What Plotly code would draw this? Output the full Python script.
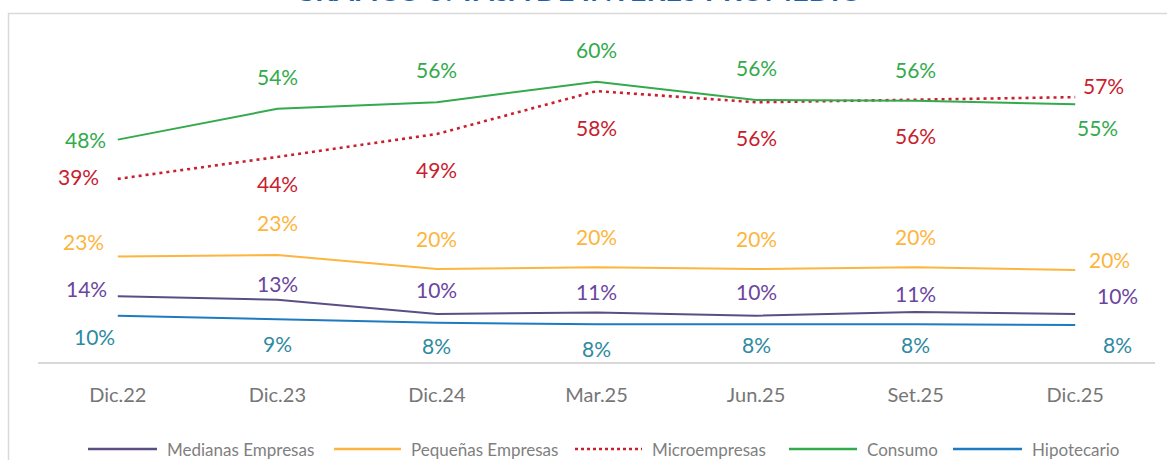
import plotly.graph_objects as go

# ---------------- data ----------------
categories = ["Dic.22", "Dic.23", "Dic.24", "Mar.25", "Jun.25", "Set.25", "Dic.25"]
medianas = [14.1, 13.3, 10.3, 10.6, 9.9, 10.7, 10.3]
pequenas = [22.6, 22.9, 19.9, 20.3, 19.9, 20.3, 19.7]
micro = [39.2, 43.9, 48.8, 58.0, 55.6, 56.1, 56.7]
consumo = [47.6, 54.2, 55.6, 60.0, 56.1, 55.9, 55.2]
hipotecario = [9.9, 9.2, 8.4, 8.1, 8.1, 8.1, 7.9]
series_names = ["Medianas Empresas", "Pequeñas Empresas", "Microempresas", "Consumo", "Hipotecario"]
title_text = "GRÁFICO 5: TASA DE INTERÉS PROMEDIO"

# ---------------- styles ----------------
W, H = 1167, 460
ML, MR, MT, MB = 38, 12, 35, 98
PW, PH = W - ML - MR, H - MT - MB
FONT = "Lato"

line_colors = ["#5B4E85", "#FDB53E", "#C8202E", "#33AA4C", "#1F7BBF"]
label_colors = ["#6A45A0", "#FDB53E", "#C8202E", "#33AA4C", "#2E8AA0"]
dashes = ["solid", "solid", "3px,4px", "solid", "solid"]
widths = [2, 2, 2.6, 2, 2]

# label offsets (px) relative to each point: (dx, dy) with dy positive = downward
offsets = [
    [(-31, -8), (0, -16), (0, -24), (0, -21), (0, -24), (0, -19), (42, -18)],
    [(-34, -15), (0, -33), (0, -31), (0, -31), (0, -31), (0, -31), (34, -10)],
    [(-39, -2), (0, 27), (0, 35), (0, 36), (0, 35), (0, 36), (28, -12)],
    [(-32, 0), (0, -32), (0, -33), (0, -32), (0, -32), (0, -31), (22, 23)],
    [(-23, 21), (0, 24), (0, 23), (0, 24), (0, 20), (0, 20), (42, 19)],
]

all_series = [medianas, pequenas, micro, consumo, hipotecario]


def px2x(px):
    return (px - ML) / PW


def px2y(py):
    return (H - MB - py) / PH


fig = go.Figure()
for name, vals, lc, dash, lw in zip(series_names, all_series, line_colors, dashes, widths):
    fig.add_trace(go.Scatter(
        x=categories, y=vals, mode="lines", name=name,
        line=dict(color=lc, width=lw, dash=dash),
        showlegend=False, hoverinfo="skip",
    ))

annotations = []
for vals, col, offs in zip(all_series, label_colors, offsets):
    for c, v, (dx, dy) in zip(categories, vals, offs):
        annotations.append(dict(
            x=c, y=v, xref="x", yref="y", text=f"{round(v)}%",
            showarrow=False, xshift=dx, yshift=-dy,
            font=dict(family=FONT, size=21, color=col),
            xanchor="center", yanchor="middle",
        ))

# title (clipped at the top like the reference)
annotations.append(dict(
    x=px2x(578), y=px2y(-11), xref="paper", yref="paper", text=f"<b>{title_text}</b>",
    showarrow=False, xanchor="center", yanchor="middle",
    font=dict(family=FONT, size=29, color="#1F5FAA"),
))

# custom legend
legend_lines = [(88, 157), (334, 401), (575, 642), (789, 857), (953, 1022)]
leg_y = 449
shapes = []
for name, lc, dash, (x0, x1) in zip(series_names, line_colors, dashes, legend_lines):
    shapes.append(dict(
        type="line", xref="paper", yref="paper",
        x0=px2x(x0), x1=px2x(x1), y0=px2y(leg_y), y1=px2y(leg_y),
        line=dict(color=lc, width=2.5, dash=("dot" if dash != "solid" else "solid")),
    ))
    annotations.append(dict(
        x=px2x(x1 + 8), y=px2y(leg_y), xref="paper", yref="paper", text=name,
        showarrow=False, xanchor="left", yanchor="middle",
        font=dict(family=FONT, size=17, color="#7F7F7F"),
    ))

# outer frame
shapes.append(dict(
    type="rect", xref="paper", yref="paper",
    x0=px2x(8.5), x1=px2x(1190), y0=px2y(13.5), y1=px2y(490),
    line=dict(color="#D9D9D9", width=1.5), fillcolor="rgba(0,0,0,0)", layer="below",
))

fig.update_layout(
    width=W, height=H,
    margin=dict(l=ML, r=MR, t=MT, b=MB),
    paper_bgcolor="white", plot_bgcolor="white",
    showlegend=False,
    annotations=annotations, shapes=shapes,
    xaxis=dict(
        type="category", range=[-0.5, 6.5],
        showline=True, linecolor="#D9D9D9", linewidth=2,
        showgrid=False, zeroline=False, ticks="",
        tickfont=dict(family=FONT, size=20, color="#767676"),
        ticklabelstandoff=14,
    ),
    yaxis=dict(
        range=[0, 70], showticklabels=False, showgrid=False,
        zeroline=False, showline=False,
    ),
)

fig.write_html(
    "out.html",
    config={"displayModeBar": False},
    post_script="document.body.style.margin='0px';document.body.style.overflow='hidden';",
)
